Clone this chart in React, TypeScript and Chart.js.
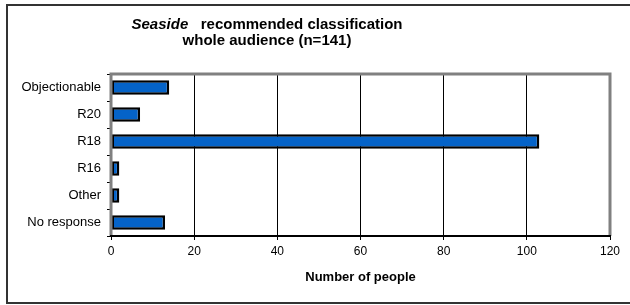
import React, { useEffect, useRef } from "react";
import { Chart, registerables } from "chart.js";

Chart.register(...registerables);

const categories = ["Objectionable", "R20", "R18", "R16", "Other", "No response"];
const counts = [14, 7, 103, 2, 2, 13];
const titleItalic = "Seaside";
const titleRest = "   recommended classification";
const titleLine2 = "whole audience (n=141)";
const xAxisTitle = "Number of people";

const FONT = "Arial, 'Liberation Sans', sans-serif";

export default function App() {
  const ref = useRef<HTMLCanvasElement | null>(null);
  useEffect(() => {
    document.body.style.margin = "0";
    const canvas = ref.current!;
    const framePlugin = {
      id: "frame",
      beforeDraw(chart: any) {
        const ctx = chart.ctx;
        ctx.save();
        ctx.fillStyle = "#ffffff";
        ctx.fillRect(0, 0, chart.width, chart.height);
        ctx.strokeStyle = "#333333";
        ctx.lineWidth = 2;
        ctx.strokeRect(7, 5, 660, 298);
        ctx.fillStyle = "#000000";
        ctx.textBaseline = "alphabetic";
        ctx.textAlign = "left";
        const cx = 267;
        ctx.font = `italic bold 15px ${FONT}`;
        const w1 = ctx.measureText(titleItalic).width;
        ctx.font = `bold 15px ${FONT}`;
        const w2 = ctx.measureText(titleRest).width;
        const x = cx - (w1 + w2) / 2;
        ctx.font = `italic bold 15px ${FONT}`;
        ctx.fillText(titleItalic, x, 29);
        ctx.font = `bold 15px ${FONT}`;
        ctx.fillText(titleRest, x + w1, 29);
        ctx.textAlign = "center";
        ctx.fillText(titleLine2, cx, 45);
        ctx.restore();
      },
      afterDraw(chart: any) {
        const { ctx, chartArea } = chart;
        const { left, right, top, bottom } = chartArea;
        ctx.save();
        ctx.strokeStyle = "#808080";
        ctx.lineWidth = 3;
        ctx.beginPath();
        ctx.moveTo(left, bottom);
        ctx.lineTo(left, top);
        ctx.lineTo(right, top);
        ctx.lineTo(right, bottom);
        ctx.stroke();
        ctx.strokeStyle = "#000000";
        ctx.lineWidth = 2;
        ctx.beginPath();
        ctx.moveTo(left - 1, bottom);
        ctx.lineTo(right + 1, bottom);
        ctx.stroke();
        ctx.restore();
      },
    };
    const chart = new Chart(canvas, {
      type: "bar",
      data: {
        labels: categories,
        datasets: [
          {
            data: counts,
            backgroundColor: "#0563C8",
            borderColor: "#000000",
            borderWidth: 2.5,
            borderSkipped: false,
            barPercentage: 0.54,
            categoryPercentage: 1,
          },
        ],
      },
      options: {
        indexAxis: "y",
        responsive: false,
        animation: false,
        layout: { padding: { top: 74, right: 20, left: 0, bottom: 0 } },
        plugins: { legend: { display: false }, tooltip: { enabled: false }, title: { display: false } },
        scales: {
          x: {
            min: 0,
            max: 120,
            ticks: { stepSize: 20, color: "#000", font: { family: FONT, size: 12 }, padding: 4 },
            grid: { color: "#000", lineWidth: 1, tickLength: 4, tickColor: "#000" },
            border: { display: false },
            title: {
              display: true,
              text: xAxisTitle,
              color: "#000",
              font: { family: FONT, size: 13, weight: "bold" },
              padding: { top: 0, bottom: 20 },
            },
            afterFit(scale: any) {
              scale.height = 69;
            },
          },
          y: {
            ticks: { color: "#000", font: { family: FONT, size: 13 }, padding: 6 },
            grid: { offset: true, drawOnChartArea: false, tickLength: 4, color: "#000", tickColor: "#000" },
            border: { display: false },
            afterFit(scale: any) {
              scale.width = 111;
            },
          },
        },
      },
      plugins: [framePlugin],
    } as any);
    return () => chart.destroy();
  }, []);
  return <canvas ref={ref} width={630} height={305} style={{ display: "block" }} />;
}
